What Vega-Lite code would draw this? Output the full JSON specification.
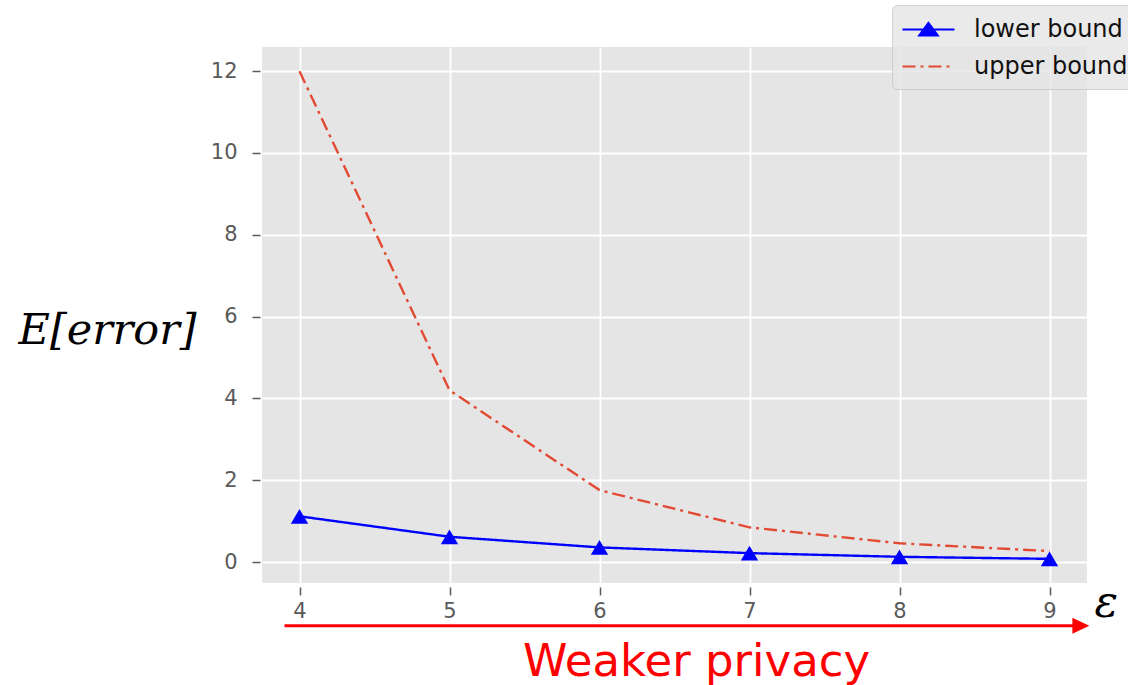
{
  "$schema": "https://vega.github.io/schema/vega-lite/v6.json",
  "autosize": "none",
  "width": 825,
  "height": 536,
  "padding": {"left": 262, "top": 47, "right": 41, "bottom": 102},
  "background": "white",
  "config": {
    "view": {"fill": "#E5E5E5", "stroke": null},
    "axis": {
      "labelFont": "DejaVu Sans",
      "labelFontSize": 21,
      "labelColor": "#5a5a5a",
      "tickColor": "#5a5a5a",
      "tickWidth": 1.5,
      "tickSize": 8,
      "domain": false,
      "grid": true,
      "gridColor": "#FFFFFF",
      "gridWidth": 1.8
    }
  },
  "layer": [
    {
      "data": {
        "values": [
          {"eps": 4, "value": 1.12, "series": "lower bound"},
          {"eps": 5, "value": 0.62, "series": "lower bound"},
          {"eps": 6, "value": 0.36, "series": "lower bound"},
          {"eps": 7, "value": 0.22, "series": "lower bound"},
          {"eps": 8, "value": 0.13, "series": "lower bound"},
          {"eps": 9, "value": 0.08, "series": "lower bound"},
          {"eps": 4, "value": 12.0, "series": "upper bound"},
          {"eps": 5, "value": 4.2, "series": "upper bound"},
          {"eps": 6, "value": 1.76, "series": "upper bound"},
          {"eps": 7, "value": 0.85, "series": "upper bound"},
          {"eps": 8, "value": 0.46, "series": "upper bound"},
          {"eps": 9, "value": 0.27, "series": "upper bound"}
        ]
      },
      "layer": [
        {
          "mark": {"type": "line", "strokeWidth": 2.4},
          "encoding": {
            "x": {
              "field": "eps", "type": "quantitative",
              "scale": {"domain": [3.75, 9.25], "nice": false, "zero": false},
              "axis": {
                "values": [4, 5, 6, 7, 8, 9], "format": "d", "offset": 4, "labelPadding": 5,
                "title": "Weaker privacy",
                "titleFont": "DejaVu Sans", "titleFontSize": 45, "titleFontWeight": "normal",
                "titleColor": "#FF0000", "titleX": 434, "titleY": 88, "titleAlign": "center",
                "titleBaseline": "alphabetic", "titleAnchor": null
              }
            },
            "y": {
              "field": "value", "type": "quantitative",
              "scale": {"domain": [-0.51, 12.59], "nice": false, "zero": false},
              "axis": {
                "values": [0, 2, 4, 6, 8, 10, 12], "offset": 2, "labelPadding": 15,
                "title": "E[error]",
                "titleFont": "DejaVu Serif", "titleFontSize": 43, "titleFontStyle": "italic",
                "titleFontWeight": "normal", "titleColor": "#000000", "titleAngle": 0,
                "titleX": -153, "titleY": 296, "titleAlign": "center", "titleBaseline": "alphabetic"
              }
            },
            "color": {
              "field": "series", "type": "nominal",
              "scale": {"domain": ["lower bound", "upper bound"], "range": ["#0000FF", "#E24A33"]},
              "legend": {
                "title": null,
                "orient": "none", "legendX": 630, "legendY": -42,
                "labelFont": "DejaVu Sans", "labelFontSize": 24, "labelColor": "#111111",
                "symbolSize": 676, "symbolStrokeWidth": 2, "symbolOffset": 12,
                "labelOffset": 31, "rowPadding": 10, "padding": 10,
                "fillColor": "rgba(229,229,229,0.8)", "strokeColor": "rgba(200,200,200,0.8)",
                "cornerRadius": 5,
                "encode": {
                  "symbols": {
                    "update": {
                      "shape": {"signal": "datum.value === 'lower bound' ? 'M-2,0H2M0,-0.5L0.7,0.45L-0.7,0.45Z' : 'M-2,0H2'"},
                      "fill": {"signal": "datum.value === 'lower bound' ? '#0000FF' : 'transparent'"},
                      "stroke": {"signal": "datum.value === 'lower bound' ? '#0000FF' : '#E24A33'"},
                      "strokeDash": {"signal": "datum.value === 'lower bound' ? [1, 0] : [14, 5, 3, 5]"},
                      "strokeWidth": {"value": 2.2},
                      "opacity": {"value": 1}
                    }
                  }
                }
              }
            },
            "strokeDash": {
              "field": "series", "type": "nominal",
              "scale": {"domain": ["lower bound", "upper bound"], "range": [[1, 0], [13, 5, 3, 5]]},
              "legend": null
            }
          }
        },
        {
          "transform": [{"filter": "datum.series === 'lower bound'"}],
          "mark": {
            "type": "point", "filled": true, "opacity": 1, "color": "#0000FF",
            "shape": "M0,-0.85L1,0.85L-1,0.85Z", "size": 300
          },
          "encoding": {
            "x": {"field": "eps", "type": "quantitative"},
            "y": {"field": "value", "type": "quantitative"}
          }
        }
      ]
    },
    {
      "data": {"values": [{"xs": 3.9, "xe": 9.2, "yv": -1.556}]},
      "mark": {"type": "rule", "color": "#FF0000", "strokeWidth": 3},
      "encoding": {
        "x": {"field": "xs", "type": "quantitative"},
        "x2": {"field": "xe"},
        "y": {"field": "yv", "type": "quantitative"}
      }
    },
    {
      "data": {"values": [{"xa": 9.209, "ya": -1.556}]},
      "mark": {
        "type": "point", "filled": true, "opacity": 1, "color": "#FF0000",
        "shape": "M1,0L-1,-0.95L-1,0.95Z", "size": 289
      },
      "encoding": {
        "x": {"field": "xa", "type": "quantitative"},
        "y": {"field": "ya", "type": "quantitative"}
      }
    },
    {
      "data": {"values": [{"xt": 9.378, "yt": -1.344, "label": "ε"}]},
      "mark": {
        "type": "text", "font": "DejaVu Serif", "fontStyle": "italic", "fontSize": 44,
        "color": "#000000", "align": "center", "baseline": "alphabetic"
      },
      "encoding": {
        "x": {"field": "xt", "type": "quantitative"},
        "y": {"field": "yt", "type": "quantitative"},
        "text": {"field": "label"}
      }
    }
  ]
}
